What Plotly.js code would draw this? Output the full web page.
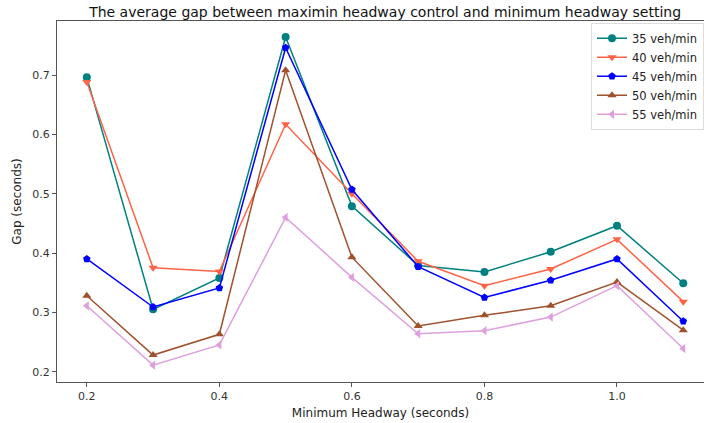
<!DOCTYPE html>
<html>
<head>
<meta charset="utf-8">
<script src="https://cdn.plot.ly/plotly-3.0.1.min.js"></script>
<style>html,body{margin:0;padding:0;background:#fff}#chart{width:704px;height:423px}</style>
</head>
<body>
<div id="chart"></div>
<script>
const headway = [0.2, 0.3, 0.4, 0.5, 0.6, 0.7, 0.8, 0.9, 1.0, 1.1];
const seriesNames = ["35 veh/min", "40 veh/min", "45 veh/min", "50 veh/min", "55 veh/min"];
const gap35 = [0.696, 0.305, 0.358, 0.764, 0.479, 0.379, 0.368, 0.402, 0.446, 0.349];
const gap40 = [0.688, 0.375, 0.369, 0.617, 0.500, 0.386, 0.345, 0.373, 0.423, 0.318];
const gap45 = [0.390, 0.309, 0.341, 0.746, 0.507, 0.377, 0.325, 0.354, 0.390, 0.285];
const gap50 = [0.328, 0.228, 0.263, 0.708, 0.393, 0.277, 0.295, 0.311, 0.351, 0.270];
const gap55 = [0.311, 0.211, 0.245, 0.460, 0.359, 0.264, 0.269, 0.292, 0.345, 0.239];
const xTicks = [0.2, 0.4, 0.6, 0.8, 1.0];
const xTickText = ["0.2", "0.4", "0.6", "0.8", "1.0"];
const yTicks = [0.2, 0.3, 0.4, 0.5, 0.6, 0.7];
const yTickText = ["0.2", "0.3", "0.4", "0.5", "0.6", "0.7"];

const allY = [gap35, gap40, gap45, gap50, gap55];
const colors = ["#008080", "#FF6347", "#0000FF", "#A0522D", "#DDA0DD"];
const symbols = ["circle", "triangle-down", "pentagon", "triangle-up", "triangle-left"];

const traces = allY.map((y, i) => ({
  x: headway, y: y, name: seriesNames[i], type: "scatter", mode: "lines+markers",
  line: {color: colors[i], width: 1.5},
  marker: {color: colors[i], symbol: symbols[i], size: 8}
}));
// invisible helper trace on top axis to draw the top spine
traces.push({x: [headway[0]], y: [gap35[0]], xaxis: "x2", type: "scatter", mode: "markers",
  marker: {opacity: 0}, showlegend: false, hoverinfo: "skip"});

const font = "DejaVu Sans, sans-serif";
const xRange = [0.155, 1.1313];
const layout = {
  width: 704, height: 423,
  margin: {l: 57, r: 0, t: 21, b: 41},
  paper_bgcolor: "#fff", plot_bgcolor: "#fff",
  font: {family: font, color: "#222", size: 11},
  title: {text: "The average gap between maximin headway control and minimum headway setting",
          font: {family: font, size: 14, color: "#111"}, x: 0.547, xanchor: "center", y: 0.972, yanchor: "middle"},
  xaxis: {range: xRange, tickvals: xTicks, ticktext: xTickText, showgrid: false, zeroline: false,
          showline: true, linecolor: "#555", linewidth: 1, ticks: "outside", ticklen: 4, tickcolor: "#555",
          tickfont: {size: 11, color: "#333"},
          title: {text: "Minimum Headway (seconds)", font: {size: 12, color: "#222"}, standoff: 6}},
  xaxis2: {range: xRange, overlaying: "x", side: "top", showline: true, linecolor: "#555", linewidth: 1,
           showticklabels: false, ticks: "", showgrid: false, zeroline: false},
  yaxis: {range: [0.1826, 0.791], tickvals: yTicks, ticktext: yTickText, showgrid: false, zeroline: false,
          showline: true, linecolor: "#555", linewidth: 1, ticks: "outside", ticklen: 4, tickcolor: "#555",
          tickfont: {size: 11, color: "#333"},
          title: {text: "Gap (seconds)", font: {size: 12, color: "#222"}, standoff: 8}},
  legend: {x: 1, xanchor: "right", y: 0.995, yanchor: "top", bgcolor: "rgba(255,255,255,0.8)",
           bordercolor: "#ddd", borderwidth: 1, font: {size: 11.5, color: "#222"}, tracegroupgap: 0, itemwidth: 30}
};
Plotly.newPlot("chart", traces, layout, {displayModeBar: false, staticPlot: true});
</script>
</body>
</html>
